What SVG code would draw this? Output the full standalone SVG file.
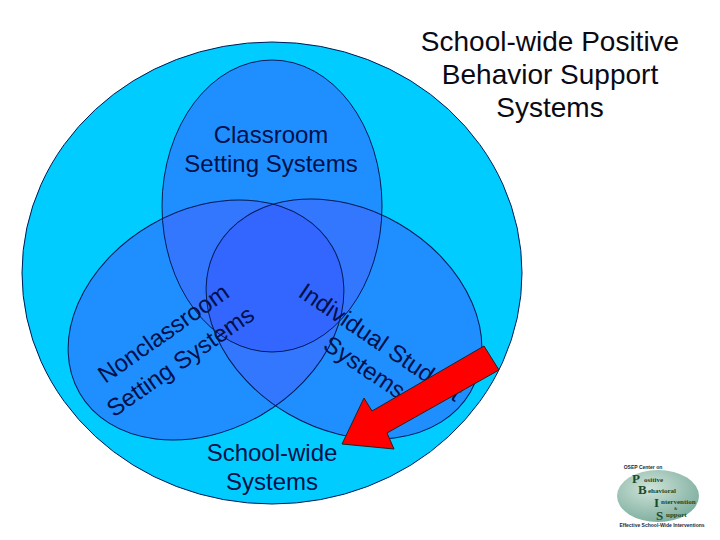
<svg xmlns="http://www.w3.org/2000/svg" width="720" height="540" viewBox="0 0 720 540">
<style>
.t{font-family:"Liberation Sans",Arial,sans-serif;font-size:28px;fill:#0a0a14;text-anchor:middle}
.l{font-family:"Liberation Sans",Arial,sans-serif;font-size:24px;fill:#00104a;text-anchor:middle}
.e{stroke:#001a55;stroke-width:1;fill:none}
.f{fill:#1f8fff}
.m{fill:#3377ff}
.g{font-family:"Liberation Serif",serif;font-weight:bold;fill:#1a4a2a}
.s{font-family:"Liberation Sans",Arial,sans-serif;font-weight:bold;font-size:5px;fill:#1a2a3a;text-anchor:middle}
</style>
<defs>
<ellipse id="a" cx="272" cy="206" rx="110" ry="146"/>
<ellipse id="b" cx="206" cy="320" rx="146" ry="110" transform="rotate(-30 206 320)"/>
<ellipse id="c" cx="344" cy="319" rx="146" ry="110" transform="rotate(30 344 319)"/>
<clipPath id="cA"><use href="#a"/></clipPath>
<clipPath id="cB"><use href="#b"/></clipPath>
<radialGradient id="lg" cx="0.4" cy="0.35" r="0.8"><stop offset="0" stop-color="#cfe3d8"/><stop offset="1" stop-color="#6fa595"/></radialGradient>
</defs>
<rect width="720" height="540" fill="#fff"/>
<g id="outer"><ellipse cx="272" cy="273" rx="250" ry="231" fill="#00ccff" stroke="#001a55"/></g>
<g id="title"><text class="t" x="550" y="51">School-wide Positive</text>
<text class="t" x="550" y="84">Behavior Support</text>
<text class="t" x="550" y="117">Systems</text></g>
<g id="fills">
<use href="#a" class="f"/>
<use href="#b" class="f"/>
<use href="#c" class="f"/>
<g clip-path="url(#cA)"><use href="#b" class="m"/><use href="#c" class="m"/></g>
<g clip-path="url(#cB)"><use href="#c" class="m"/></g>
<g clip-path="url(#cA)"><g clip-path="url(#cB)"><use href="#c" fill="#3366ff"/></g></g>
</g>
<g id="classroom"><use href="#a" class="e"/>
<text class="l" x="271" y="143">Classroom</text><text class="l" x="271" y="172">Setting Systems</text></g>
<g id="nonclassroom"><use href="#b" class="e"/>
<text class="l" transform="translate(168,340) rotate(-35)">Nonclassroom</text>
<text class="l" transform="translate(185,368) rotate(-35)">Setting Systems</text></g>
<g id="individual"><use href="#c" class="e"/>
<text class="l" transform="translate(376,349) rotate(34)">Individual Student</text>
<text class="l" transform="translate(360,374) rotate(34)">Systems</text></g>
<g id="schoolwide"><text class="l" x="272" y="461">School-wide</text><text class="l" x="272" y="490">Systems</text></g>
<g id="connectors"><polygon points="484,346 499,370 387,433 394,449 342,444 364,398 372,411" fill="#ff0000" stroke="#222" stroke-width="1"/></g>
<g id="logo">
<ellipse cx="658" cy="496" rx="41" ry="26" fill="url(#lg)"/>
<text class="s" x="643" y="469">OSEP Center on</text>
<text class="g" x="632" y="483" font-size="13">P</text><text class="g" x="644" y="482" font-size="7">ositive</text>
<text class="g" x="638" y="494" font-size="13">B</text><text class="g" x="648" y="493" font-size="7">ehavioral</text>
<text class="g" x="654" y="507" font-size="13">I</text><text class="g" x="661" y="504" font-size="7">ntervention</text>
<text class="g" x="674" y="510" font-size="4">&amp;</text>
<text class="g" x="656" y="520" font-size="13">S</text><text class="g" x="666" y="517" font-size="7">upport</text>
<text class="s" x="662" y="527">Effective School-Wide Interventions</text>
</g>
</svg>
